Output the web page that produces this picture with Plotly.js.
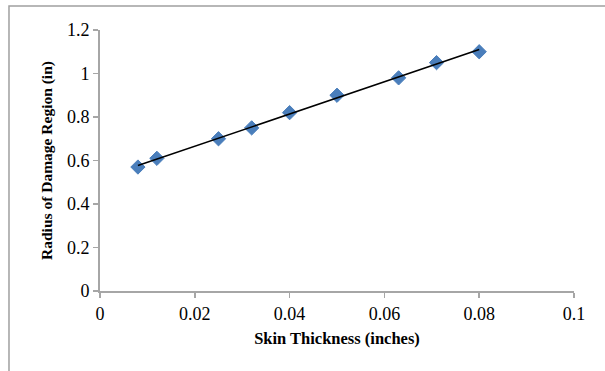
<!DOCTYPE html>
<html>
<head>
<meta charset="utf-8">
<script src="https://cdn.plot.ly/plotly-3.0.1.min.js"></script>
<style>html,body{margin:0;padding:0;background:#fff;}#chart{width:605px;height:371px;}</style>
</head>
<body>
<div id="chart"></div>
<script>
// Data
const skinThickness = [0.008, 0.012, 0.025, 0.032, 0.040, 0.050, 0.063, 0.071, 0.080];
const damageRadius  = [0.57, 0.61, 0.70, 0.75, 0.82, 0.90, 0.98, 1.05, 1.10];
const xTickVals = [0, 0.02, 0.04, 0.06, 0.08, 0.1];
const xTickText = ['0', '0.02', '0.04', '0.06', '0.08', '0.1'];
const yTickVals = [0, 0.2, 0.4, 0.6, 0.8, 1, 1.2];
const yTickText = ['0', '0.2', '0.4', '0.6', '0.8', '1', '1.2'];

// Linear trendline (least squares) from the data
const n = skinThickness.length;
const mx = skinThickness.reduce((a,b)=>a+b,0)/n;
const my = damageRadius.reduce((a,b)=>a+b,0)/n;
let sxy = 0, sxx = 0;
for (let i=0;i<n;i++){ sxy += (skinThickness[i]-mx)*(damageRadius[i]-my); sxx += (skinThickness[i]-mx)**2; }
const slope = sxy/sxx, intercept = my - slope*mx;
const xMin = Math.min(...skinThickness), xMax = Math.max(...skinThickness);
const trendX = [xMin, xMax];
const trendY = trendX.map(x => intercept + slope*x);

const serif = '"Liberation Serif", "Times New Roman", serif';
const axisColor = '#a6a6a6';

const traces = [
  {x: skinThickness, y: damageRadius, type: 'scatter', mode: 'markers',
   marker: {symbol: 'diamond', size: 11, color: '#4a7ebb', line: {color: '#4a7ebb', width: 1}},
   hoverinfo: 'skip', showlegend: false},
  {x: trendX, y: trendY, type: 'scatter', mode: 'lines',
   line: {color: '#000000', width: 1.5}, hoverinfo: 'skip', showlegend: false}
];

const layout = {
  width: 605, height: 371,
  margin: {l: 100, r: 31, t: 30, b: 80},
  paper_bgcolor: '#ffffff', plot_bgcolor: '#ffffff',
  showlegend: false,
  font: {family: serif, size: 18, color: '#000'},
  xaxis: {
    range: [0, 0.1], tickvals: xTickVals, ticktext: xTickText,
    showgrid: false, zeroline: false, showline: true, linecolor: axisColor, linewidth: 2,
    ticks: 'outside', ticklen: 5, tickwidth: 1.5, tickcolor: axisColor,
    tickfont: {family: serif, size: 18, color: '#000'},
    title: {text: '<b>Skin Thickness (inches)</b>', font: {family: serif, size: 16.5, color: '#000'}, standoff: 10}
  },
  yaxis: {
    range: [0, 1.2], tickvals: yTickVals, ticktext: yTickText,
    showgrid: false, zeroline: false, showline: true, linecolor: axisColor, linewidth: 2,
    ticks: 'outside', ticklen: 5, tickwidth: 1.5, tickcolor: axisColor,
    tickfont: {family: serif, size: 18, color: '#000'},
    title: {text: '<b>Radius of Damage Region (in)</b>', font: {family: serif, size: 15.5, color: '#000'}, standoff: 10}
  },
  shapes: [
    {type: 'path', xref: 'paper', yref: 'paper',
     path: 'M -0.192 -0.35 L -0.192 1.092 L 1.08 1.092',
     line: {color: '#a0a0a0', width: 1.5}}
  ]
};

Plotly.newPlot('chart', traces, layout, {displayModeBar: false, staticPlot: true});
</script>
</body>
</html>
